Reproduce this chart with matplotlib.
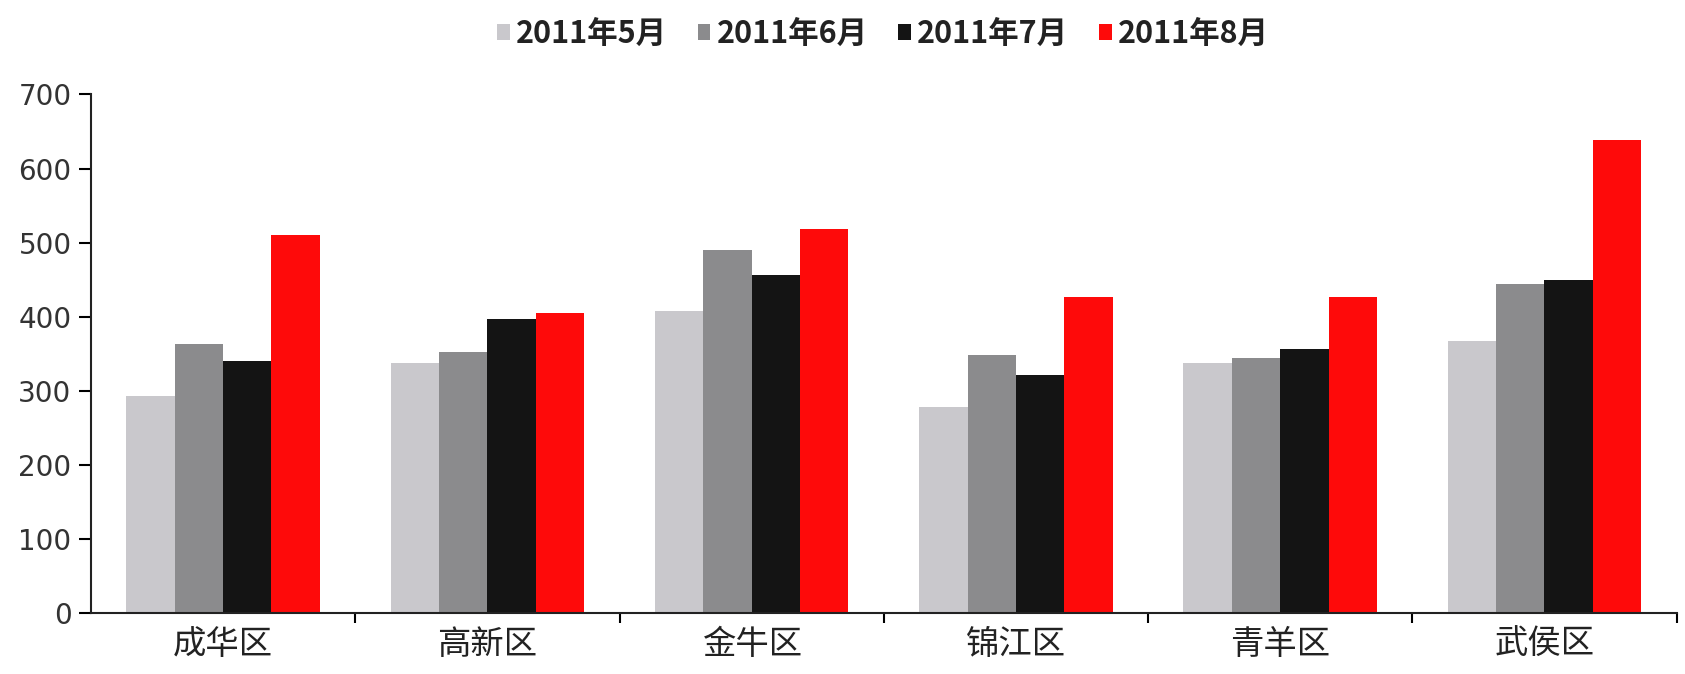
import numpy as np
import matplotlib
matplotlib.use('Agg')
import matplotlib.pyplot as plt
from matplotlib.ticker import FixedLocator

plt.rcParams['font.family'] = ['Noto Sans CJK SC', 'DejaVu Sans']

districts = ['成华区', '高新区', '金牛区', '锦江区', '青羊区', '武侯区']
months = ['2011年5月', '2011年6月', '2011年7月', '2011年8月']
may = [293, 338, 408, 278, 338, 367]
jun = [363, 353, 490, 349, 345, 444]
jul = [340, 397, 456, 322, 356, 450]
aug = [510, 405, 518, 427, 427, 639]
colors = ['#c9c8cc', '#8b8b8d', '#141414', '#fe0a0a']

fig = plt.figure(figsize=(16.85, 6.74), dpi=100)
ax = fig.add_axes([0.054, 0.09, 0.941, 0.77])

x = np.arange(len(districts))
w = 0.183
for i, (vals, c, lab) in enumerate(zip([may, jun, jul, aug], colors, months)):
    ax.bar(x + (i - 1.5) * w, vals, width=w, color=c, label=lab, linewidth=0)

ax.set_xlim(-0.5, len(districts) - 0.5)
ax.set_ylim(0, 700)
ax.set_yticks(range(0, 701, 100))
ax.set_yticklabels([str(v) for v in range(0, 701, 100)], family='DejaVu Sans')
ax.set_xticks(x)
ax.set_xticklabels(districts, fontsize=24, color='#222222')
ax.xaxis.set_minor_locator(FixedLocator(np.arange(0.5, len(districts), 1)))
ax.tick_params(axis='x', which='major', length=0, pad=10)
ax.tick_params(axis='x', which='minor', length=7, width=1.5, direction='out')
ax.tick_params(axis='y', length=9, width=1.5, direction='out', labelsize=20,
               labelcolor='#333333', pad=5)

for s in ['top', 'right']:
    ax.spines[s].set_visible(False)
for s in ['left', 'bottom']:
    ax.spines[s].set_linewidth(1.5)
    ax.spines[s].set_color('#222222')

leg = fig.legend(loc='center', bbox_to_anchor=(0.524, 0.95), ncol=4, frameon=False,
                 prop={'size': 22, 'weight': 'bold'}, handlelength=0.42,
                 handleheight=0.42, handletextpad=0.2, columnspacing=1.0)
for t in leg.get_texts():
    t.set_color('#222222')

fig.savefig('out.png', dpi=100)
